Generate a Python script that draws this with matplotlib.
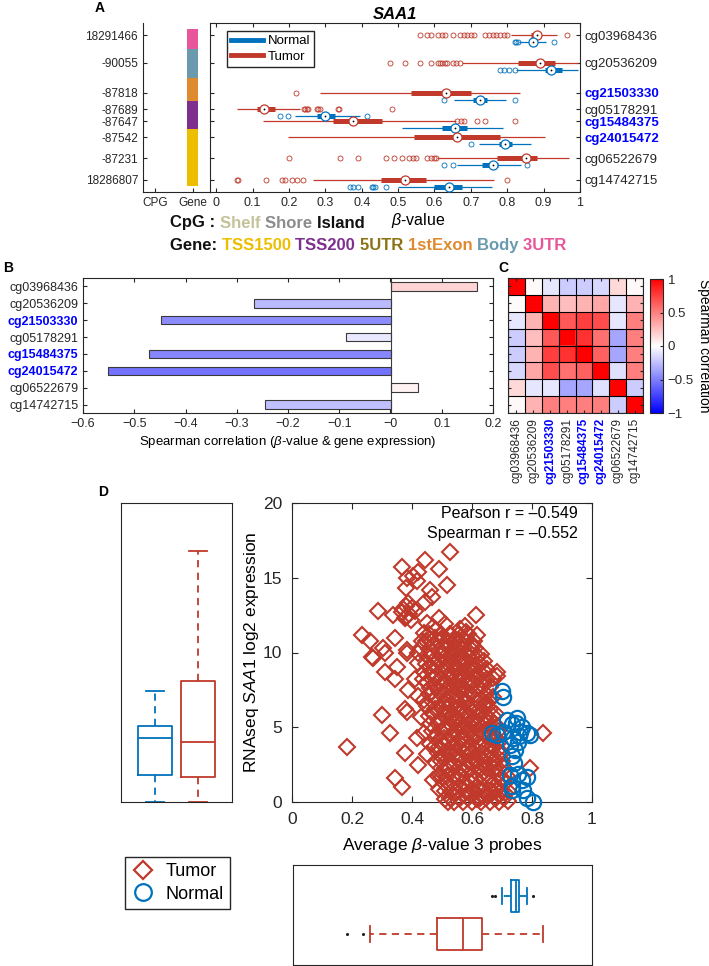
import numpy as np
import matplotlib
matplotlib.use("Agg")
import matplotlib.pyplot as plt
from matplotlib.lines import Line2D
from matplotlib.ticker import FuncFormatter

plt.rcParams['font.family'] = ['Liberation Sans', 'DejaVu Sans']
plt.rcParams['mathtext.fontset'] = 'custom'
plt.rcParams['mathtext.rm'] = 'Liberation Sans'
plt.rcParams['mathtext.it'] = 'Liberation Sans:italic'
plt.rcParams['xtick.direction'] = 'in'
plt.rcParams['ytick.direction'] = 'in'
plt.rcParams['axes.linewidth'] = 0.8
plt.rcParams['axes.edgecolor'] = '#262626'
plt.rcParams['xtick.color'] = '#262626'
plt.rcParams['ytick.color'] = '#262626'

RED = '#c0392b'
BLUE = '#0072bd'
HIT = '#0000ff'

# ---------------- data ----------------
probes = ['cg03968436', 'cg20536209', 'cg21503330', 'cg05178291',
          'cg15484375', 'cg24015472', 'cg06522679', 'cg14742715']
hit_probes = ['cg21503330', 'cg15484375', 'cg24015472']
probe_dist = ['18291466', '-90055', '-87818', '-87689', '-87647', '-87542', '-87231', '18286807']
probe_track = [1.0, 3.33, 5.83, 7.17, 8.17, 9.5, 11.25, 13.08]
probe_gene = ['3UTR', 'Body', '1stExon', 'TSS200', 'TSS200', 'TSS1500', 'TSS1500', 'TSS1500']
gene_colors = {'TSS1500': '#edbe00', 'TSS200': '#7e2f8e', '5UTR': '#8c7414',
               '1stExon': '#e08a30', 'Body': '#6b9aae', '3UTR': '#e8559a'}
cpg_colors = {'Shelf': '#c4c29a', 'Shore': '#8c8c8c', 'Island': '#111111'}

# (whislo, q1, med, q3, whishi)
tumor_stats = [(0.81, 0.866, 0.882, 0.893, 0.937),
               (0.675, 0.83, 0.89, 0.93, 0.995),
               (0.285, 0.535, 0.633, 0.70, 0.835),
               (0.057, 0.112, 0.131, 0.162, 0.23),
               (0.13, 0.32, 0.375, 0.457, 0.66),
               (0.197, 0.545, 0.663, 0.78, 0.904),
               (0.608, 0.773, 0.852, 0.882, 0.97),
               (0.265, 0.452, 0.518, 0.578, 0.764)]
tumor_out = [[0.56, 0.58, 0.59, 0.61, 0.62, 0.63, 0.65, 0.67, 0.68, 0.69, 0.70, 0.71,
              0.74, 0.75, 0.76, 0.77, 0.78, 0.79, 0.80, 0.964],
             [0.477, 0.52, 0.56, 0.59, 0.61, 0.615, 0.62, 0.63, 0.635, 0.65, 0.66, 0.67],
             [0.22],
             [0.24, 0.245, 0.25, 0.252, 0.277, 0.28, 0.285, 0.334, 0.337, 0.482],
             [0.663, 0.673, 0.682, 0.718, 0.74, 0.82],
             [],
             [0.2, 0.34, 0.39, 0.468, 0.49, 0.512, 0.53, 0.54, 0.55, 0.58, 0.59, 0.60, 0.605],
             [0.057, 0.06, 0.137, 0.18, 0.19, 0.208, 0.222, 0.238, 0.8]]
normal_stats = [(0.833, 0.862, 0.871, 0.880, 0.907),
                (0.825, 0.905, 0.92, 0.95, 0.995),
                (0.655, 0.705, 0.725, 0.745, 0.797),
                (0.216, 0.277, 0.298, 0.326, 0.395),
                (0.512, 0.62, 0.657, 0.69, 0.787),
                (0.723, 0.776, 0.795, 0.813, 0.866),
                (0.663, 0.731, 0.76, 0.775, 0.838),
                (0.5, 0.6, 0.641, 0.676, 0.758)]
normal_out = [[0.82, 0.825, 0.83, 0.929],
              [0.78, 0.79, 0.805, 0.82],
              [0.625, 0.82],
              [0.175, 0.197, 0.414],
              [],
              [0.70],
              [0.627, 0.65, 0.855],
              [0.367, 0.375, 0.39, 0.427, 0.43, 0.436, 0.468]]

spearman_expr = [0.168, -0.267, -0.447, -0.086, -0.472, -0.551, 0.053, -0.244]

probe_corr = np.array([
    [1.00, 0.02, -0.10, -0.20, -0.20, -0.15, 0.15, 0.03],
    [0.02, 1.00, 0.30, 0.25, 0.30, 0.35, -0.10, 0.30],
    [-0.10, 0.30, 1.00, 0.65, 0.75, 0.70, -0.10, 0.50],
    [-0.20, 0.25, 0.65, 1.00, 0.80, 0.55, -0.35, 0.50],
    [-0.20, 0.30, 0.75, 0.80, 1.00, 0.62, -0.35, 0.50],
    [-0.15, 0.35, 0.70, 0.55, 0.62, 1.00, -0.12, 0.50],
    [0.15, -0.10, -0.10, -0.35, -0.35, -0.12, 1.00, -0.20],
    [0.03, 0.30, 0.50, 0.50, 0.50, 0.50, -0.20, 1.00]])

# average beta (3 probes) vs expression, tumor samples (outer points)
tumor_pts = [
    (0.527, 16.7), (0.367, 15.7), (0.443, 16.2), (0.42, 15.4), (0.49, 15.6), (0.383, 15.0),
    (0.38, 14.3), (0.517, 14.5), (0.46, 14.2), (0.443, 13.4), (0.287, 12.8), (0.337, 12.5),
    (0.38, 12.4), (0.49, 12.3), (0.613, 12.5), (0.577, 11.8), (0.233, 11.2), (0.26, 10.8),
    (0.343, 11.0), (0.617, 11.2), (0.31, 10.0), (0.27, 9.6), (0.383, 10.0), (0.31, 8.7),
    (0.343, 8.2), (0.683, 8.4), (0.387, 7.5), (0.30, 5.8), (0.377, 6.2), (0.327, 4.6),
    (0.183, 3.7), (0.417, 4.3), (0.837, 4.6), (0.65, 6.6), (0.377, 3.3), (0.42, 2.5),
    (0.343, 1.6), (0.367, 1.0), (0.383, 6.0), (0.793, 2.3), (0.67, 8.3), (0.643, 6.6),
    (0.493, 1.8), (0.402, 15.1), (0.418, 14.8), (0.468, 13.7), (0.475, 11.0), (0.303, 10.3),
    (0.267, 9.7), (0.383, 10.2), (0.433, 10.8), (0.42, 10.0), (0.35, 9.0), (0.683, 8.7),
    (0.37, 12.9), (0.375, 12.3), (0.39, 12.6), (0.40, 13.0), (0.385, 13.3), (0.45, 12.0),
    (0.365, 12.7), (0.395, 12.2), (0.38, 13.1), (0.41, 12.8)]
# tumor samples in the dense core
tumor_core = [
    (0.47, 11.7), (0.44, 11.3), (0.48, 11.5), (0.51, 11.9), (0.53, 11.2), (0.56, 11.6),
    (0.58, 11.4), (0.46, 10.9), (0.50, 11.0), (0.54, 10.8), (0.57, 10.9), (0.60, 10.6),
    (0.43, 10.3), (0.47, 10.5), (0.49, 10.1), (0.52, 10.4), (0.55, 10.2), (0.58, 10.0),
    (0.61, 10.3), (0.45, 9.8), (0.51, 9.7), (0.535, 9.9), (0.565, 9.6), (0.60, 9.8),
    (0.63, 9.9), (0.42, 9.3), (0.46, 9.1), (0.485, 9.4), (0.52, 9.2), (0.55, 9.0),
    (0.575, 9.3), (0.615, 9.1), (0.64, 9.4), (0.44, 8.7), (0.50, 8.8), (0.53, 8.6),
    (0.56, 8.5), (0.59, 8.8), (0.625, 8.6), (0.65, 8.9), (0.41, 8.2), (0.45, 8.0),
    (0.475, 8.3), (0.51, 8.1), (0.545, 7.9), (0.57, 8.2), (0.60, 8.0), (0.635, 8.1),
    (0.46, 7.6), (0.49, 7.4), (0.52, 7.7), (0.555, 7.5), (0.585, 7.8), (0.62, 7.6),
    (0.66, 7.7), (0.42, 7.1), (0.44, 6.8), (0.48, 7.0), (0.505, 6.7), (0.535, 7.1),
    (0.565, 6.9), (0.595, 7.2), (0.63, 6.9), (0.67, 7.0), (0.45, 6.4), (0.50, 6.2),
    (0.525, 6.5), (0.555, 6.3), (0.58, 6.6), (0.61, 6.2), (0.64, 6.4), (0.43, 5.7),
    (0.47, 5.9), (0.49, 5.5), (0.52, 5.8), (0.55, 5.6), (0.575, 5.9), (0.60, 5.5),
    (0.625, 5.8), (0.655, 5.6), (0.68, 5.9), (0.46, 5.2), (0.51, 5.0), (0.54, 5.3),
    (0.57, 5.1), (0.59, 4.9), (0.62, 5.2), (0.66, 5.0), (0.44, 4.6), (0.48, 4.4),
    (0.50, 4.7), (0.53, 4.5), (0.56, 4.2), (0.58, 4.6), (0.61, 4.4), (0.64, 4.7),
    (0.67, 4.3), (0.46, 3.9), (0.49, 3.7), (0.52, 4.0), (0.55, 3.8), (0.585, 3.6),
    (0.62, 3.9), (0.65, 3.7), (0.69, 4.0), (0.45, 3.2), (0.50, 3.0), (0.53, 3.3),
    (0.56, 2.9), (0.59, 3.2), (0.615, 2.8), (0.645, 3.1), (0.675, 2.9), (0.70, 3.3),
    (0.48, 2.6), (0.51, 2.3), (0.54, 2.5), (0.57, 2.2), (0.60, 2.6), (0.63, 2.3),
    (0.66, 2.5), (0.69, 2.2), (0.47, 1.5), (0.50, 1.7), (0.52, 1.3), (0.55, 1.6),
    (0.58, 1.2), (0.61, 1.5), (0.64, 1.7), (0.67, 1.3), (0.70, 1.6), (0.49, 0.9),
    (0.53, 0.7), (0.56, 1.0), (0.59, 0.6), (0.62, 0.9), (0.65, 0.5), (0.68, 0.8),
    (0.71, 0.6), (0.51, 0.2), (0.54, 0.0), (0.57, 0.0), (0.60, 0.0), (0.63, 0.0),
    (0.66, 0.0), (0.69, 0.0), (0.72, 0.1), (0.555, 0.3), (0.615, 0.2), (0.675, 0.3),
    (0.52, 0.0),
    (0.455, 11.25), (0.495, 11.25), (0.525, 11.25), (0.555, 11.25), (0.585, 11.25),
    (0.445, 10.75), (0.485, 10.75), (0.515, 10.75), (0.545, 10.75), (0.575, 10.75), (0.605, 10.75),
    (0.455, 10.25), (0.505, 10.25), (0.535, 10.25), (0.565, 10.25), (0.595, 10.25),
    (0.465, 9.75), (0.495, 9.75), (0.525, 9.75), (0.555, 9.75), (0.585, 9.75), (0.615, 9.75),
    (0.445, 9.25), (0.475, 9.25), (0.505, 9.25), (0.535, 9.25), (0.565, 9.25), (0.595, 9.25),
    (0.625, 9.25), (0.465, 8.75), (0.515, 8.75), (0.545, 8.75), (0.575, 8.75), (0.605, 8.75),
    (0.64, 8.75), (0.435, 8.25), (0.465, 8.25), (0.495, 8.25), (0.525, 8.25), (0.555, 8.25),
    (0.585, 8.25), (0.615, 8.25), (0.65, 8.25), (0.475, 7.75), (0.505, 7.75), (0.535, 7.75),
    (0.565, 7.75), (0.60, 7.75), (0.635, 7.75), (0.455, 7.25), (0.51, 7.25), (0.545, 7.25),
    (0.575, 7.25), (0.61, 7.25), (0.645, 7.25), (0.465, 6.75), (0.49, 6.75), (0.52, 6.75),
    (0.55, 6.75), (0.58, 6.75), (0.615, 6.75), (0.655, 6.75), (0.475, 6.25), (0.515, 6.25),
    (0.54, 6.25), (0.57, 6.25), (0.595, 6.25), (0.625, 6.25), (0.66, 6.25), (0.455, 5.75),
    (0.505, 5.75), (0.535, 5.75), (0.565, 5.75), (0.59, 5.75), (0.615, 5.75), (0.645, 5.75),
    (0.67, 5.75), (0.485, 5.25), (0.525, 5.25), (0.555, 5.25), (0.585, 5.25), (0.605, 5.25),
    (0.64, 5.25), (0.675, 5.25), (0.465, 4.75), (0.515, 4.75), (0.545, 4.75), (0.57, 4.75),
    (0.595, 4.75), (0.625, 4.75), (0.655, 4.75), (0.685, 4.75), (0.475, 4.25), (0.505, 4.25),
    (0.535, 4.25), (0.57, 4.25), (0.595, 4.25), (0.625, 4.25), (0.655, 4.25), (0.68, 4.25),
    (0.475, 3.75), (0.505, 3.75), (0.535, 3.75), (0.565, 3.75), (0.60, 3.75), (0.635, 3.75),
    (0.67, 3.75), (0.70, 3.75), (0.485, 3.25), (0.515, 3.25), (0.545, 3.25), (0.575, 3.25),
    (0.60, 3.25), (0.63, 3.25), (0.66, 3.25), (0.69, 3.25), (0.495, 2.75), (0.525, 2.75),
    (0.555, 2.75), (0.585, 2.75), (0.61, 2.75), (0.64, 2.75), (0.67, 2.75), (0.70, 2.75),
    (0.495, 2.25), (0.525, 2.25), (0.555, 2.25), (0.585, 2.25), (0.615, 2.25), (0.645, 2.25),
    (0.675, 2.25), (0.705, 2.25), (0.485, 1.75), (0.515, 1.75), (0.54, 1.75), (0.565, 1.75),
    (0.595, 1.75), (0.625, 1.75), (0.655, 1.75), (0.685, 1.75), (0.715, 1.75), (0.505, 1.25),
    (0.535, 1.25), (0.565, 1.25), (0.595, 1.25), (0.625, 1.25), (0.655, 1.25), (0.685, 1.25),
    (0.71, 1.25), (0.51, 0.75), (0.545, 0.75), (0.575, 0.75), (0.605, 0.75), (0.635, 0.75),
    (0.665, 0.75), (0.695, 0.75), (0.72, 0.75), (0.525, 0.25), (0.56, 0.25), (0.585, 0.25),
    (0.625, 0.25), (0.645, 0.25), (0.68, 0.25), (0.705, 0.25)]
normal_pts = [
    (0.70, 7.4), (0.703, 7.0), (0.717, 5.5), (0.75, 5.6), (0.733, 5.2), (0.767, 5.0),
    (0.783, 4.6), (0.793, 4.5), (0.667, 4.6), (0.683, 4.5), (0.737, 4.3), (0.753, 4.0),
    (0.727, 3.8), (0.743, 3.5), (0.733, 3.1), (0.703, 4.7), (0.76, 4.7), (0.727, 1.8),
    (0.753, 1.9), (0.783, 1.7), (0.733, 1.1), (0.767, 1.5), (0.77, 0.8), (0.783, 0.3),
    (0.803, 0.0), (0.733, 0.8), (0.745, 5.3), (0.757, 4.4), (0.74, 2.6)]
pearson_r = -0.549
spearman_r = -0.552

# boxplot summaries of panel D
expr_box = {'Normal': dict(whislo=0.0, q1=1.8, med=4.28, q3=5.08, whishi=7.42, fliers=[]),
            'Tumor': dict(whislo=0.0, q1=1.67, med=4.0, q3=8.1, whishi=16.8, fliers=[])}
beta_box = {'Normal': dict(whislo=0.70, q1=0.73, med=0.745, q3=0.757, whishi=0.783,
                           fliers=[0.667, 0.677, 0.803]),
            'Tumor': dict(whislo=0.257, q1=0.48, med=0.57, q3=0.633, whishi=0.837,
                          fliers=[0.18, 0.233])}

# ---------------- figure ----------------
W, H = 709, 966
fig = plt.figure(figsize=(W / 100, H / 100), dpi=100)


def px_axes(x0, y0, x1, y1):
    return fig.add_axes([x0 / W, 1 - y1 / H, (x1 - x0) / W, (y1 - y0) / H])


def fmt_g(v, pos=None):
    return f"{v:g}".replace('-', '\u2212')


# ----- panel A -----
axS = px_axes(143, 23, 210, 192)
axS.set_xlim(0.68, 2.45)
axS.set_ylim(14.08, 0)
axS.spines['top'].set_visible(False)
axS.spines['right'].set_visible(False)
axS.set_yticks(probe_track)
axS.set_yticklabels(probe_dist, fontsize=8.5)
axS.set_xticks([1, 2])
axS.set_xticklabels(['CPG', 'Gene'], fontsize=8.5)
axS.tick_params(length=3)
edges = [probe_track[0] - 0.5] + [(a + b) / 2 for a, b in zip(probe_track[:-1], probe_track[1:])] + [probe_track[-1] + 0.5]
for i, g in enumerate(probe_gene):
    axS.bar(2, edges[i + 1] - edges[i], bottom=edges[i], width=0.29,
            color=gene_colors[g], linewidth=0)

axA = px_axes(210, 23, 580, 192)
axA.set_xlim(-0.017, 1.0)
axA.set_ylim(14.08, 0)
normal_shift = 0.58


def compact_box(ax, y, st, out, color):
    lo, q1, med, q3, hi = st
    ax.plot([lo, hi], [y, y], color=color, lw=0.9, solid_capstyle='butt', zorder=2)
    ax.plot([q1, q3], [y, y], color=color, lw=3.6, solid_capstyle='butt', zorder=3)
    ax.plot(out, [y] * len(out), 'o', mfc='none', mec=color, ms=3.6, mew=0.6, zorder=2)
    ax.plot(med, y, 'o', mfc='white', mec=color, ms=6.5, mew=0.9, zorder=4)
    ax.plot(med, y, 'o', color='k', ms=1.3, mew=0, zorder=5)


for i in range(len(probes)):
    compact_box(axA, probe_track[i], tumor_stats[i], tumor_out[i], RED)
    compact_box(axA, probe_track[i] + normal_shift, normal_stats[i], normal_out[i], BLUE)

axA.set_xticks(np.arange(0, 1.01, 0.1))
axA.xaxis.set_major_formatter(FuncFormatter(lambda v, p: f"{round(v, 1):g}"))
axA.tick_params(axis='x', labelsize=9, top=True, length=3)
axA.set_yticks(probe_track)
axA.set_yticklabels(probes)
axA.tick_params(axis='y', left=True, right=True, labelleft=False, labelright=True,
                labelsize=9.5, length=3)
for lab in axA.get_yticklabels():
    if lab.get_text() in hit_probes:
        lab.set_color(HIT)
        lab.set_fontweight('bold')
axA.set_title('SAA1', fontsize=12, fontweight='bold', style='italic', pad=3)
axA.legend(handles=[Line2D([], [], color=BLUE, lw=3.5, label='Normal'),
                    Line2D([], [], color=RED, lw=3.5, label='Tumor')],
           loc='upper left', bbox_to_anchor=(17 / 370, 1 - 8 / 169), borderaxespad=0,
           fontsize=9.5, handlelength=2.4, fancybox=False, edgecolor='#262626',
           framealpha=1, borderpad=0.3, labelspacing=0.25, handletextpad=0.4)
fig.text(418 / W, 1 - 220 / H, r'$\it{\beta}$-value', fontsize=11.5, ha='center', va='center')

renderer = fig.canvas.get_renderer()


def colored_line(x, y, parts, **kw):
    for s, c in parts:
        t = fig.text(x / W, 1 - y / H, s, color=c, va='center', **kw)
        x += t.get_window_extent(renderer=renderer).width


colored_line(170, 223, [('CpG : ', '#111111')] + [(k + ' ', c) for k, c in cpg_colors.items()],
             fontsize=12, fontweight='bold')
colored_line(170, 246, [('Gene: ', '#111111')] + [(k + ' ', c) for k, c in gene_colors.items()],
             fontsize=12, fontweight='bold')

# ----- panel B -----
cmap = plt.get_cmap('bwr')
axB = px_axes(83, 278, 493, 413)
rows = np.arange(1, len(probes) + 1)
axB.barh(rows, spearman_expr, height=0.5, color=[cmap((v + 1) / 2) for v in spearman_expr],
         edgecolor='#3a3a3a', linewidth=0.8)
axB.axvline(0, color='#3a3a3a', lw=0.8)
axB.set_xlim(-0.6, 0.2)
axB.set_ylim(8.5, 0.5)
axB.set_xticks(np.arange(-0.6, 0.21, 0.1))
axB.xaxis.set_major_formatter(FuncFormatter(lambda v, p: fmt_g(round(v, 1))))
axB.set_yticks(rows)
axB.set_yticklabels(probes)
axB.tick_params(top=True, right=True, labelsize=9, length=3)
for lab in axB.get_yticklabels():
    if lab.get_text() in hit_probes:
        lab.set_color(HIT)
        lab.set_fontweight('bold')
axB.set_xlabel(r'Spearman correlation ($\it{\beta}$-value & gene expression)', fontsize=9.5,
               labelpad=3)

# ----- panel C -----
axC = px_axes(508, 278, 643, 413)
im = axC.imshow(probe_corr, cmap=cmap, vmin=-1, vmax=1, aspect='auto', interpolation='nearest')
for k in np.arange(-0.5, len(probes), 1.0):
    axC.axhline(k, color='k', lw=0.8)
    axC.axvline(k, color='k', lw=0.8)
axC.set_xticks(range(len(probes)))
axC.set_xticklabels(probes, rotation=90, fontsize=8.5)
axC.set_yticks(range(len(probes)))
axC.set_yticklabels([])
axC.tick_params(length=2, top=True, right=True)
for lab in axC.get_xticklabels():
    if lab.get_text() in hit_probes:
        lab.set_color(HIT)
        lab.set_fontweight('bold')
cax = px_axes(650, 279, 663, 413)
cb = fig.colorbar(im, cax=cax, ticks=[-1, -0.5, 0, 0.5, 1])
cb.ax.yaxis.set_major_formatter(FuncFormatter(fmt_g))
cb.ax.tick_params(labelsize=9.5, length=2)
cb.outline.set_linewidth(0.8)
cb.set_label('Spearman correlation', fontsize=10, rotation=270, labelpad=12)

# ----- panel D -----
axD = px_axes(292, 503, 592, 802)
tb, te = np.array(tumor_pts + tumor_core).T
nb, ne = np.array(normal_pts).T
axD.plot(tb, te, 'D', mfc='none', mec=RED, ms=8.0, mew=1.5, clip_on=False, zorder=3)
axD.plot(nb, ne, 'o', mfc='none', mec=BLUE, ms=11, mew=1.6, clip_on=False, zorder=4)
axD.set_xlim(0, 1)
axD.set_ylim(0, 20)
axD.set_xticks(np.arange(0, 1.01, 0.2))
axD.xaxis.set_major_formatter(FuncFormatter(lambda v, p: f"{round(v, 1):g}"))
axD.set_yticks([0, 5, 10, 15, 20])
axD.tick_params(top=True, right=True, labelsize=12.5, length=4, pad=7)
axD.set_xlabel(r'Average $\it{\beta}$-value 3 probes', fontsize=12.5, labelpad=7)
axD.set_ylabel(r'RNAseq $\it{SAA1}$ log2 expression', fontsize=12.5, labelpad=1)
axD.text(0.953, 0.965, f'Pearson r = {pearson_r:.3f}'.replace('-', '\u2013'),
         transform=axD.transAxes, ha='right', va='center', fontsize=11.5)
axD.text(0.953, 0.898, f'Spearman r = {spearman_r:.3f}'.replace('-', '\u2013'),
         transform=axD.transAxes, ha='right', va='center', fontsize=11.5)

axL = px_axes(121, 503, 232, 802)
for pos, key, col in [(1, 'Normal', BLUE), (2, 'Tumor', RED)]:
    axL.bxp([expr_box[key]], positions=[pos], widths=0.8, capwidths=0.4,
            boxprops=dict(color=col, lw=1.3), medianprops=dict(color=col, lw=1.3),
            whiskerprops=dict(color=col, lw=1.3, ls=(0, (4, 3))),
            capprops=dict(color=col, lw=1.3), showfliers=False, manage_ticks=False)
axL.set_xlim(0.21, 2.79)
axL.set_ylim(0, 20)
axL.set_xticks([])
axL.set_yticks([])
for ln in axL.lines:
    ln.set_clip_on(False)

axBt = px_axes(293, 865, 592, 965)
for pos, key, col in [(1, 'Normal', BLUE), (2, 'Tumor', RED)]:
    axBt.bxp([beta_box[key]], positions=[pos], widths=0.84, capwidths=0.42,
             orientation='horizontal',
             boxprops=dict(color=col, lw=1.3), medianprops=dict(color=col, lw=1.3),
             whiskerprops=dict(color=col, lw=1.3, ls=(0, (4, 3))),
             capprops=dict(color=col, lw=1.3),
             flierprops=dict(marker='.', ms=2.5, mfc='#222222', mec='#222222'),
             manage_ticks=False)
axBt.set_xlim(0, 1)
axBt.set_ylim(2.82, 0.18)
axBt.set_xticks([])
axBt.set_yticks([])

fig.legend(handles=[Line2D([], [], ls='none', marker='D', mfc='none', mec=RED, ms=9.5, mew=1.6,
                           label='Tumor'),
                    Line2D([], [], ls='none', marker='o', mfc='none', mec=BLUE, ms=12, mew=1.6,
                           label='Normal')],
           loc='upper left', bbox_to_anchor=(125 / W, 1 - 857 / H), borderaxespad=0,
           fontsize=13, fancybox=False, edgecolor='#262626', framealpha=1,
           borderpad=0.35, labelspacing=0.3, handletextpad=0.6, handlelength=1.3)

# panel letters
for s, x, y in [('A', 100, 8), ('B', 8, 268), ('C', 503, 268), ('D', 103, 492)]:
    fig.text(x / W, 1 - y / H, s, fontsize=10, fontweight='bold', ha='center', va='center')

fig.savefig('out.png', dpi=100)
